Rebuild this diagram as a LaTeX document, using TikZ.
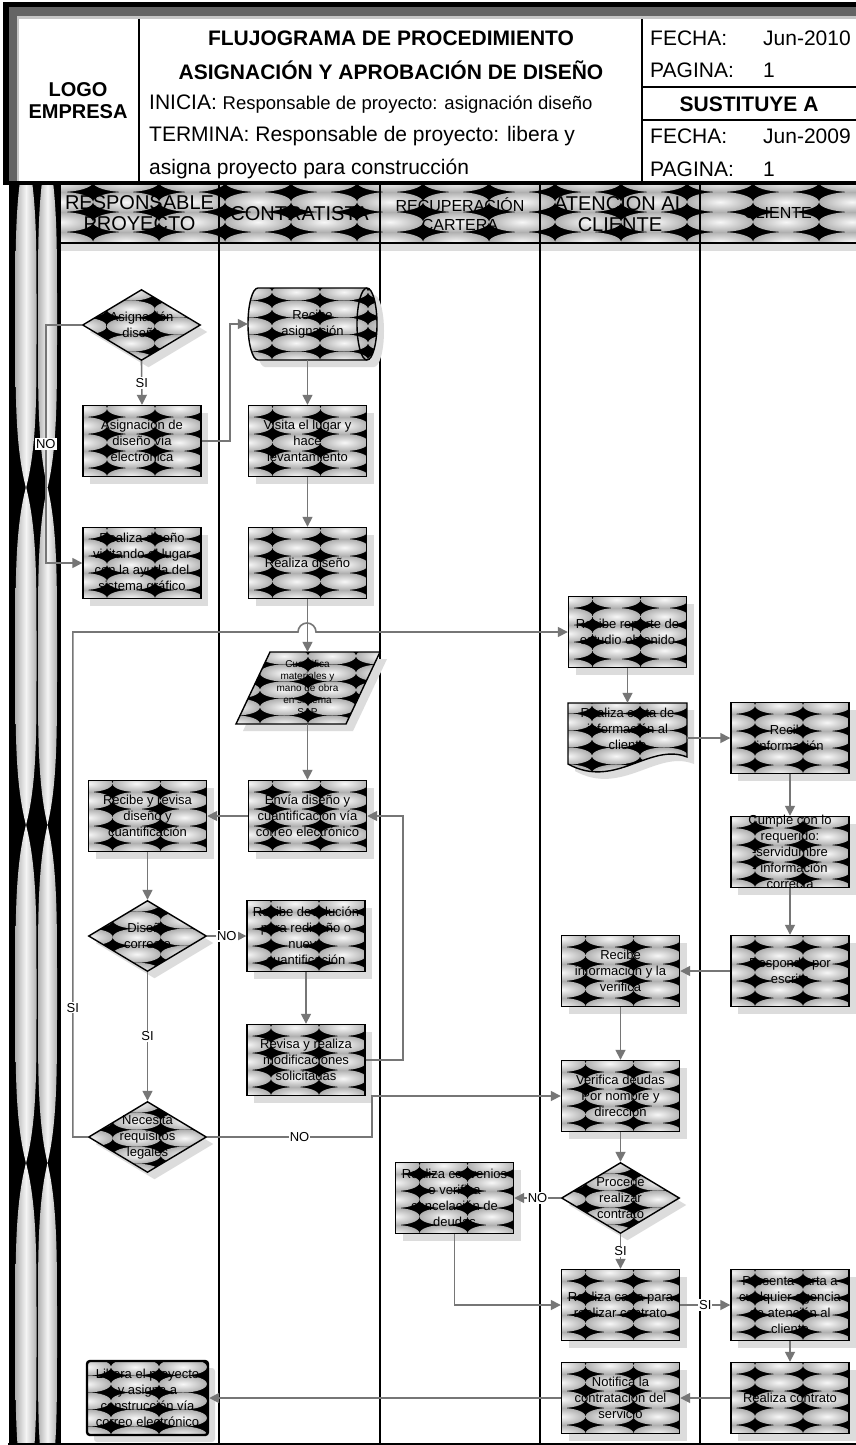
\documentclass[tikz,border=0pt]{standalone}
\usepackage{fontspec}
\setmainfont{Liberation Sans}
\usetikzlibrary{shapes.geometric,arrows.meta,shadows}
\definecolor{conncol}{RGB}{118,118,118}
\definecolor{bandgray}{RGB}{100,100,100}
\definecolor{shcol}{RGB}{220,220,220}
\newcommand\patfill[4]{%
  \fill[black] (path picture bounding box.south west) rectangle (path picture bounding box.north east);
  \foreach \pci in {0,...,#3}{%
    \foreach \pcj in {0,...,#4}{%
      \shade[inner color=gray!6, outer color=gray!62]
        ([xshift=\pci*#1pt, yshift=\pcj*#2pt]path picture bounding box.south west)
        ellipse [x radius=#1pt/2, y radius=#2pt/2];
    }%
  }%
}
\tikzset{
  shp/.style={draw=black, line width=1.4pt, drop shadow={shadow xshift=7pt, shadow yshift=-7pt, fill=shcol, opacity=1}},
  pat/.style={path picture={\patfill{48}{17}{3}{5}}},
  box/.style={shp, pat, rectangle, minimum width=118pt, minimum height=71pt, inner sep=0pt},
  dec/.style={shp, pat, diamond, minimum width=118pt, minimum height=71pt, inner sep=0pt},
  ntext/.style={align=center, inner sep=0pt, font=\fontsize{13}{16}\selectfont},
  stext/.style={align=center, inner sep=0pt, font=\fontsize{10}{12}\selectfont},
  conn/.style={draw=conncol, line width=1.6pt, -{Triangle[length=10pt,width=10pt]}},
  lab/.style={fill=white, inner sep=1pt, font=\fontsize{13}{15}\selectfont},
  lane/.style={draw=black, line width=2pt},
  hdr/.style={inner sep=0pt, font=\fontsize{21}{24}\selectfont},
  hdrb/.style={inner sep=0pt, font=\bfseries\fontsize{21}{24}\selectfont},
  lhd/.style={inner sep=0pt, align=center, font=\fontsize{20}{21}\selectfont},
  lhds/.style={inner sep=0pt, align=center, font=\fontsize{16}{19}\selectfont},
}
\begin{document}
\begin{tikzpicture}[x=1pt,y=-1pt]
\useasboundingbox (0,0) rectangle (856,1445);
\fill[white] (0,0) rectangle (856,1445);
% ---------- header frame ----------
\fill[black] (3,2) rectangle (856,7);
\fill[black] (3,2) rectangle (9,185);
\fill[bandgray] (9,7) rectangle (856,16);
\fill[bandgray] (9,7) rectangle (17,181);
\fill[gray!45] (17,16) rectangle (856,19);
\fill[gray!45] (17,16) rectangle (19,181);
\fill[black] (3,181) rectangle (856,185);
\draw[line width=2pt] (139,19) -- (139,181);
\draw[line width=2pt] (642,19) -- (642,181);
\draw[line width=2pt] (642,87) -- (856,87);
\draw[line width=2pt] (642,120) -- (856,120);
% header texts
\node[align=center, inner sep=0pt, font=\bfseries\fontsize{20}{22}\selectfont] (logo) at (78,101) {LOGO\\EMPRESA};
\node[hdrb] (ht1) at (391,38) {FLUJOGRAMA DE PROCEDIMIENTO};
\node[hdrb] (ht2) at (391,70) {ASIGNACIÓN Y APROBACIÓN DE DISEÑO};
\node[hdr, anchor=west] (ht3) at (149,104) {INICIA: {\fontsize{18.5}{20}\selectfont Responsable de proyecto: asignación diseño}};
\node[hdr, anchor=west] (ht4) at (149,136) {TERMINA: Responsable de proyecto: libera y};
\node[hdr, anchor=west] (ht5) at (149,169) {asigna proyecto para construcción};
\node[hdr, anchor=west] (hr1) at (650,38) {FECHA:};
\node[hdr, anchor=west] (hr2) at (763,38) {Jun-2010};
\node[hdr, anchor=west] (hr3) at (650,70) {PAGINA:};
\node[hdr, anchor=west] (hr4) at (763,70) {1};
\node[hdrb] (hr5) at (749,104) {SUSTITUYE A};
\node[hdr, anchor=west] (hr6) at (650,136) {FECHA:};
\node[hdr, anchor=west] (hr7) at (763,136) {Jun-2009};
\node[hdr, anchor=west] (hr8) at (650,169) {PAGINA:};
\node[hdr, anchor=west] (hr9) at (763,169) {1};
% ---------- left pillars ----------
\fill[black] (9,185) rectangle (60,1445);
\begin{scope}
\clip (9,185) rectangle (60,1445);
\foreach \p in {150,487,825,1163}{
  \foreach \cx/\hw in {26/10.5,47.5/9.5}{
    \shade[left color=gray!60, right color=gray!60, middle color=gray!8]
      (\cx,\p) .. controls (\cx+\hw,\p+40) and (\cx+\hw,\p+90) .. (\cx+\hw,\p+150)
      -- (\cx+\hw,\p+188) .. controls (\cx+\hw,\p+248) and (\cx+\hw,\p+298) .. (\cx,\p+338)
      .. controls (\cx-\hw,\p+298) and (\cx-\hw,\p+248) .. (\cx-\hw,\p+188)
      -- (\cx-\hw,\p+150) .. controls (\cx-\hw,\p+90) and (\cx-\hw,\p+40) .. cycle;
  }
}
\end{scope}
% ---------- lane header ----------
\path[path picture={\patfill{66}{20}{12}{3}}] (60,185) rectangle (856,242);
\fill[shcol] (60,244) rectangle (856,251);
\draw[line width=2pt] (60,243) -- (856,243);
\foreach \xx in {219,380,540,700}{\draw[lane] (\xx,185) -- (\xx,1445);}
\draw[lane] (60,185) -- (60,1445);
\draw[line width=1.5pt] (8,1444) -- (856,1444);
\node[lhd] (lh1) at (139.5,213.5) {RESPONSABLE\\PROYECTO};
\node[lhd] (lh2) at (299.5,214) {CONTRATISTA};
\node[lhds] (lh3) at (460,214) {RECUPERACIÓN\\CARTERA};
\node[lhd] (lh4) at (620,214) {ATENCION AL\\CLIENTE};
\node[lhds] (lh5) at (778,213) {CLIENTE};
% ---------- lane 1 ----------
\node[dec, label={[ntext]center:{Asignación\\diseño}}] (d1) at (141.5,325) {};
\node[box, label={[ntext]center:{Asignación de\\diseño vía\\electrónica}}] (b1) at (142,441) {};
\node[box, label={[ntext]center:{Realiza diseño\\visitando el lugar\\con la ayuda del\\sistema gráfico}}] (b2) at (142,563) {};
\node[box, label={[ntext]center:{Recibe y revisa\\diseño y\\cuantificación}}] (a3) at (147.5,816) {};
\node[dec, label={[ntext]center:{Diseño\\correcto}}] (a4) at (147.5,936) {};
\node[dec, label={[ntext]center:{Necesita\\requisitos\\legales}}] (a5) at (147.5,1137) {};
\node[shp, pat, rectangle, rounded corners=3pt, line width=2.4pt, minimum width=121pt, minimum height=74pt, inner sep=0pt,
      label={[ntext]center:{Libera el proyecto\\y asigna a\\construcción vía\\correo electrónico}}] (a6) at (147.5,1398) {};
% ---------- lane 2 ----------
\path[shp, pat] (258,288) -- (367,288) arc[start angle=90, end angle=-90, x radius=10pt, y radius=36pt]
   -- (258,360) arc[start angle=270, end angle=90, x radius=10pt, y radius=36pt] -- cycle;
\draw[line width=1.4pt] (367,288) arc[start angle=90, end angle=270, x radius=10pt, y radius=36pt];
\node[inner sep=0pt, minimum width=129pt, minimum height=72pt,
      label={[ntext]center:{Recibe\\asignación}}] (c1) at (312.5,324) {};
\node[box, label={[ntext]center:{Visita el lugar y\\hace\\levantamiento}}] (c2) at (307.5,441) {};
\node[box, label={[ntext]center:{Realiza diseño}}] (c3) at (307.5,563) {};
\path[shp, pat] (236,724) -- (270,652) -- (380,652) -- (346,724) -- cycle;
\node[inner sep=0pt, minimum width=110pt, minimum height=72pt,
      label={[stext]center:{Cuantifica\\materiales y\\mano de obra\\en sistema\\SAP}}] (c4) at (307.5,688) {};
\node[box, label={[ntext]center:{Envía diseño y\\cuantificación vía\\correo electrónico}}] (c5) at (307.5,816) {};
\node[box, label={[ntext]center:{Recibe devolución\\para rediseño o\\nueva\\cuantificación}}] (c6) at (306,936) {};
\node[box, label={[ntext]center:{Revisa y realiza\\modificaciones\\solicitadas}}] (c7) at (306,1060) {};
% ---------- lane 3 ----------
\node[box, label={[ntext]center:{Realiza convenios\\o verifica\\cancelación de\\deudas}}] (r1) at (454.5,1198) {};
% ---------- lane 4 ----------
\node[box, label={[ntext]center:{Recibe reporte de\\estudio obtenido}}] (e1) at (627.5,632) {};
\path[shp, pat] (568,703) -- (687,703) -- (687,757) .. controls (650,742) and (615,790) .. (568,764) -- cycle;
\node[inner sep=0pt, minimum width=119pt, minimum height=70pt,
      label={[ntext, yshift=9pt]center:{Realiza carta de\\información al\\cliente}}] (e2) at (627.5,738) {};
\node[box, label={[ntext]center:{Recibe\\información y la\\verifica}}] (e3) at (620.5,971) {};
\node[box, label={[ntext]center:{Verifica deudas\\Por nombre y\\dirección}}] (e4) at (620.5,1096) {};
\node[dec, label={[ntext]center:{Procede\\realizar\\contrato}}] (e5) at (620.5,1198) {};
\node[box, label={[ntext]center:{Realiza carta para\\realizar contrato}}] (e6) at (620.5,1305) {};
\node[box, label={[ntext]center:{Notifica la\\contratación del\\servicio}}] (e7) at (620.5,1398) {};
% ---------- lane 5 ----------
\node[box, label={[ntext]center:{Recibe\\información}}] (f1) at (790,738) {};
\node[box, label={[ntext]center:{Cumple con lo\\requerido:\\-servidumbre\\- información\\correcta}}] (f2) at (790,852) {};
\node[box, label={[ntext]center:{Responde por\\escrito}}] (f3) at (790,971) {};
\node[box, label={[ntext]center:{Presenta carta a\\cualquier agencia\\de atención al\\cliente}}] (f4) at (790,1305) {};
\node[box, label={[ntext]center:{Realiza contrato}}] (f5) at (790,1398) {};
% ---------- connectors ----------
\coordinate (hop) at (298,632);
\draw[conn] (d1.south) -- node[lab] (l1) {SI} (b1.north);
\draw[conn] (d1.west) -- ++(-36,0) |- node[lab, pos=0.25] (l2) {NO} (b2.west);
\draw[conn] (b1.east) -- ++(28,0) |- (c1.west);
\draw[conn] (c1.south -| c2.north) -- (c2.north);
\draw[conn] (c2.south) -- (c3.north);
\draw[conn] (c3.south) -- (c4.north);
\draw[conn] (c4.south) -- (c5.north);
\draw[conn] (c5.west) -- (a3.east);
\draw[conn] (a3.south) -- (a4.north);
\draw[conn] (a4.east) -- node[lab] (l3) {NO} (c6.west);
\draw[conn] (a4.south) -- node[lab] (l4) {SI} (a5.north);
\draw[conn] (a5.west) -- ++(-15,0) |- node[lab, pos=0.128] (l5) {SI} (hop) arc[start angle=180, end angle=0, radius=9pt] -- (e1.west);
\draw[conn] (a5.east) -- node[lab, pos=0.56] (l6) {NO} ++(165,0) |- (e4.west);
\draw[conn] (c6.south) -- (c7.north);
\draw[conn] (c7.east) -- ++(37,0) |- (c5.east);
\draw[conn] (e1.south) -- (e2.north);
\draw[conn] (e2.east) -- (f1.west);
\draw[conn] (f1.south) -- (f2.north);
\draw[conn] (f2.south) -- (f3.north);
\draw[conn] (f3.west) -- (e3.east);
\draw[conn] (e3.south) -- (e4.north);
\draw[conn] (e4.south) -- (e5.north);
\draw[conn] (e5.west) -- node[lab] (l7) {NO} (r1.east);
\draw[conn] (e5.south) -- node[lab] (l8) {SI} (e6.north);
\draw[conn] (r1.south) |- (e6.west);
\draw[conn] (e6.east) -- node[lab] (l9) {SI} (f4.west);
\draw[conn] (f4.south) -- (f5.north);
\draw[conn] (f5.west) -- (e7.east);
\draw[conn] (e7.west) -- (a6.east);
\end{tikzpicture}
\end{document}
